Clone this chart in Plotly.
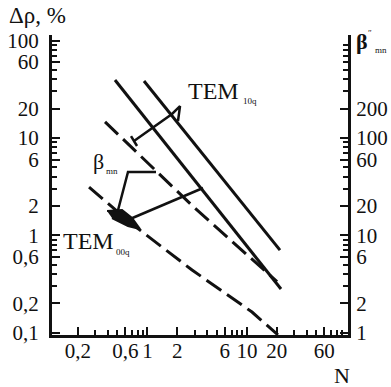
import plotly.graph_objects as go

# ---- data ----
solid1_N = [0.472, 22.0]
solid1_dr = [39.3, 0.281]
solid2_N = [0.924, 21.5]
solid2_dr = [38.4, 0.705]
dash_up_N = [0.375, 3.0, 20.07]
dash_up_dr = [14.6, 1.9, 0.335]
dash_low_N = [0.259, 0.717, 2.81, 11.25, 20.5]
dash_low_dr = [3.13, 1.28, 0.44, 0.163, 0.095]

# callout leader lines (data units)
tem10_dim_N = [0.733, 1.767, 2.127, 2.03]
tem10_dim_dr = [9.29, 17.6, 21.2, 14.9]
tem10_tick_N = [0.684, 0.786]
tem10_tick_dr = [10.45, 8.26]
tem00_lead_N = [0.569, 3.62]
tem00_lead_dr = [1.37, 3.06]
beta_lead_N = [0.495, 0.638, 1.22]
beta_lead_dr = [1.654, 4.47, 4.47]
tem00_mark_N = [0.393, 0.556, 0.700, 0.843, 0.638, 0.441]
tem00_mark_dr = [1.777, 1.819, 1.505, 1.161, 1.246, 1.505]

x_ticks = [0.2, 0.6, 1, 2, 6, 10, 20, 60]
x_labels = ["0,2", "0,6", "1", "2", "6", "10", "20", "60"]
y_ticks = [0.1, 0.2, 0.6, 1, 2, 6, 10, 20, 60, 100]
y_labels = ["0,1", "0,2", "0,6", "1", "2", "6", "10", "20", "60", "100"]
y2_ticks = [1, 2, 6, 10, 20, 60, 100, 200]
y2_labels = ["1", "2", "6", "10", "20", "60", "100", "200"]

# ---- layout geometry ----
W, H = 391, 387
L, R, T, B = 52, 348, 35, 335
FONT = "Liberation Serif"
INK = "#111111"


def px(x):
    return (x - L) / (R - L)


def py(y):
    return (B - y) / (B - T)


def minors(lo, hi):
    out = []
    d = lo
    while d < hi:
        for k in range(2, 10):
            out.append(round(k * d, 6))
        d *= 10
    return out


fig = go.Figure()

line_w = 3
for xs, ys, dash in [
    (solid1_N, solid1_dr, "solid"),
    (solid2_N, solid2_dr, "solid"),
    (dash_up_N, dash_up_dr, "18px,7px"),
    (dash_low_N, dash_low_dr, "18px,7px"),
]:
    fig.add_trace(go.Scatter(x=xs, y=ys, mode="lines",
                             line=dict(color=INK, width=line_w, dash=dash),
                             showlegend=False, hoverinfo="skip"))

for xs, ys, w in [
    (tem10_dim_N, tem10_dim_dr, 2.5),
    (tem10_tick_N, tem10_tick_dr, 2.5),
    (tem00_lead_N, tem00_lead_dr, 2.5),
    (beta_lead_N, beta_lead_dr, 2.5),
]:
    fig.add_trace(go.Scatter(x=xs, y=ys, mode="lines",
                             line=dict(color=INK, width=w),
                             showlegend=False, hoverinfo="skip"))

# filled leaf-shaped marker at the TEM00q leader
fig.add_trace(go.Scatter(x=tem00_mark_N, y=tem00_mark_dr, mode="lines",
                         fill="toself", fillcolor=INK,
                         line=dict(color=INK, width=2),
                         showlegend=False, hoverinfo="skip"))

# invisible trace to bind the right axis
fig.add_trace(go.Scatter(x=[1], y=[10], yaxis="y2", mode="markers",
                         marker=dict(opacity=0), showlegend=False,
                         hoverinfo="skip"))

xr0 = -0.959
xr1 = 2.016
yr0 = -1.0236
yr1 = 2.0565

axis_common = dict(
    showline=True, linewidth=3, linecolor=INK, showgrid=False,
    zeroline=False, ticks="inside", ticklen=8, tickwidth=2,
    tickcolor=INK, tickfont=dict(family=FONT, size=21, color=INK),
    automargin=False,
)

fig.update_layout(
    width=W, height=H, autosize=False,
    margin=dict(l=L, r=W - R, t=T, b=H - B, pad=0),
    paper_bgcolor="white", plot_bgcolor="white",
    xaxis=dict(type="log", range=[xr0, xr1], tickmode="array",
               tickvals=x_ticks, ticktext=x_labels,
               ticklabelstandoff=-5,
               minor=dict(tickmode="array", tickvals=minors(0.1, 100),
                          ticks="inside", ticklen=5, tickwidth=1.5,
                          tickcolor=INK, showgrid=False),
               **axis_common),
    yaxis=dict(type="log", range=[yr0, yr1], tickmode="array",
               tickvals=y_ticks, ticktext=y_labels,
               ticklabelstandoff=6,
               minor=dict(tickmode="array", tickvals=minors(0.1, 100),
                          ticks="inside", ticklen=5, tickwidth=1.5,
                          tickcolor=INK, showgrid=False),
               **axis_common),
    yaxis2=dict(type="log", range=[yr0 + 1, yr1 + 1], overlaying="y",
                side="right", tickmode="array", tickvals=y2_ticks,
                ticktext=y2_labels, ticklabelstandoff=1,
                minor=dict(tickmode="array", tickvals=minors(1, 1000),
                           ticks="inside", ticklen=5, tickwidth=1.5,
                           tickcolor=INK, showgrid=False),
                **axis_common),
)

ann = []


def text(x, y, s, size, xanchor="center", yanchor="middle"):
    ann.append(dict(x=px(x), y=py(y), xref="paper", yref="paper", text=s,
                    showarrow=False, xanchor=xanchor, yanchor=yanchor,
                    font=dict(family=FONT, size=size, color=INK)))


text(37, 15, "Δρ, %", 23)
text(186, 91, "TEM", 24, xanchor="left")
text(241, 101, "10q", 9, xanchor="left")
text(98, 161, "β", 22)
text(104, 171, "mn", 9, xanchor="left")
text(61, 241, "TEM", 24, xanchor="left")
text(114, 252, "00q", 9, xanchor="left")
text(342, 375, "N", 22)
text(354, 42, "<b>β</b>", 22, xanchor="left")
text(366, 33, "\u2033", 9, xanchor="left")
text(373, 50, "mn", 9, xanchor="left")

fig.update_layout(annotations=ann)

fig.write_html(
    "out.html",
    config={"displayModeBar": False},
    post_script="document.body.style.margin='0px';"
                "document.body.style.overflow='hidden';",
)
